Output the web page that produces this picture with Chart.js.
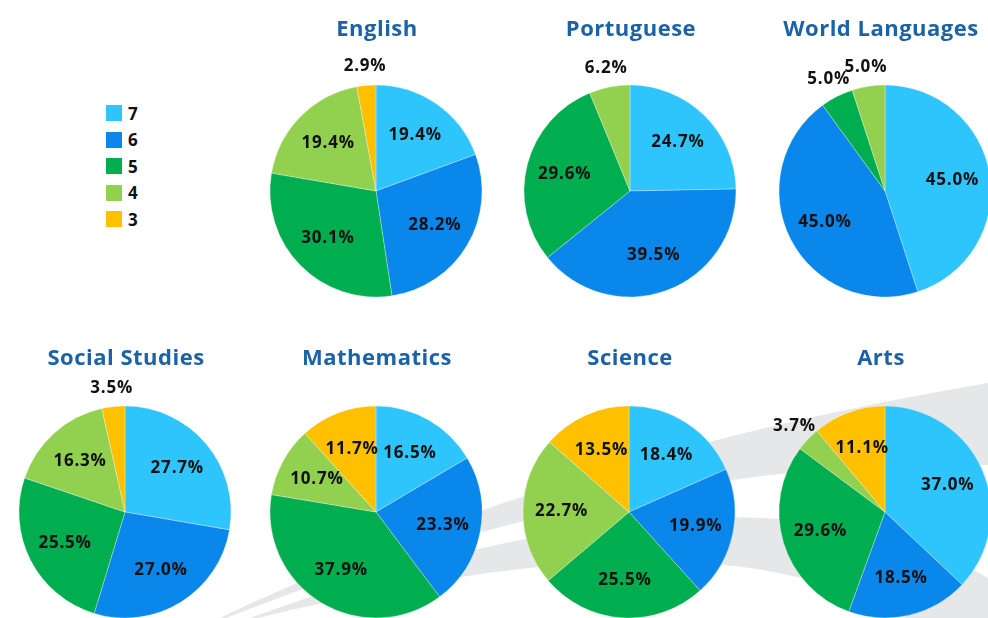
<!DOCTYPE html>
<html><head><meta charset="utf-8">
<script src="https://cdn.jsdelivr.net/npm/chart.js@4.4.1/dist/chart.umd.min.js"></script>
<style>
html,body{margin:0;padding:0;width:988px;height:618px;overflow:hidden;background:#fff;}
#bg{position:absolute;left:0;top:0;}
.pie{position:absolute;}
.title{position:absolute;text-align:center;font-family:"Open Sans",sans-serif;font-weight:700;font-size:22px;letter-spacing:0.5px;color:#1b62a7;line-height:1;transform:translate(-50%,-50%);white-space:nowrap;}
#legend{position:absolute;left:106px;top:100px;font-family:"Open Sans",sans-serif;font-weight:700;font-size:17px;color:#111;}
.li{display:flex;align-items:center;height:26.5px;}
.sw{width:16px;height:16px;margin-right:6px;}
</style></head>
<body>
<svg id="bg" width="988" height="618">
  <path d="M220 618 Q560 455 988 383 L988 465 Q640 455 226 618 Z" fill="#e6e7e8"/>
  <path d="M250 618 C520 520 800 470 988 578 L988 680 C850 540 620 530 258 618 Z" fill="#e6e7e8"/>
</svg>
<div id="legend"></div>
<script>
const grades = ["7","6","5","4","3"];
const gradeColors = ["#2ec5fc","#0a87eb","#00ad4f","#92d050","#ffc000"];
const subjects = ["English","Portuguese","World Languages","Social Studies","Mathematics","Science","Arts"];
const english        = [19.4, 28.2, 30.1, 19.4, 2.9];
const portuguese     = [24.7, 39.5, 29.6, 6.2, 0];
const worldLanguages = [45.0, 45.0, 5.0, 5.0, 0];
const socialStudies  = [27.7, 27.0, 25.5, 16.3, 3.5];
const mathematics    = [16.5, 23.3, 37.9, 10.7, 11.7];
const science        = [18.4, 19.9, 25.5, 22.7, 13.5];
const arts           = [37.0, 18.5, 29.6, 3.7, 11.1];
const seriesBySubject = [english, portuguese, worldLanguages, socialStudies, mathematics, science, arts];

// layout (styling only)
const centers = [[376,191],[630,191],[885,191],[125,512],[376,512],[629,512],[885,512]];
const titleY = [27,27,27,356,356,356,356];
const titleX = [377,631,881,126,377,630,881];
const R = 106, S = 300;

// legend
const lg = document.getElementById('legend');
grades.forEach((g,i)=>{
  const d=document.createElement('div');d.className='li';
  d.innerHTML='<div class="sw" style="background:'+gradeColors[i]+'"></div><span>'+g+'</span>';
  lg.appendChild(d);
});

const labelPlugin = {
  id:'pctLabels',
  afterDatasetsDraw(chart){
    const ctx = chart.ctx;
    const meta = chart.getDatasetMeta(0);
    const data = chart.data.datasets[0].data;
    ctx.save();
    ctx.font = '700 17px "Open Sans", sans-serif';
    if ('letterSpacing' in ctx) ctx.letterSpacing = '0.8px';
    ctx.fillStyle = '#111';
    ctx.textAlign = 'center';
    ctx.textBaseline = 'middle';
    meta.data.forEach((arc,i)=>{
      const v = data[i];
      if(!v) return;
      const p = arc.getProps(['x','y','startAngle','endAngle','outerRadius'],true);
      const mid = (p.startAngle+p.endAngle)/2;
      const d = v < 7 ? p.outerRadius + 19 : p.outerRadius*0.64;
      ctx.fillText(v.toFixed(1)+'%', p.x + Math.cos(mid)*d + 0.4, p.y + Math.sin(mid)*d);
    });
    ctx.restore();
  }
};

subjects.forEach((name,k)=>{
  const c = document.createElement('canvas');
  c.className='pie'; c.width=S; c.height=S;
  c.style.left=(centers[k][0]-S/2)+'px'; c.style.top=(centers[k][1]-S/2)+'px';
  document.body.appendChild(c);
  const t=document.createElement('div'); t.className='title'; t.textContent=name;
  t.style.left=titleX[k]+'px'; t.style.top=titleY[k]+'px';
  document.body.appendChild(t);
  new Chart(c,{
    type:'pie',
    data:{labels:grades,datasets:[{data:seriesBySubject[k],backgroundColor:gradeColors,borderWidth:0.5,borderColor:'rgba(255,255,255,0.6)'}]},
    options:{responsive:false,animation:false,radius:R,layout:{padding:0},
      plugins:{legend:{display:false},tooltip:{enabled:false},title:{display:false}}},
    plugins:[labelPlugin]
  });
});
</script>
</body></html>
